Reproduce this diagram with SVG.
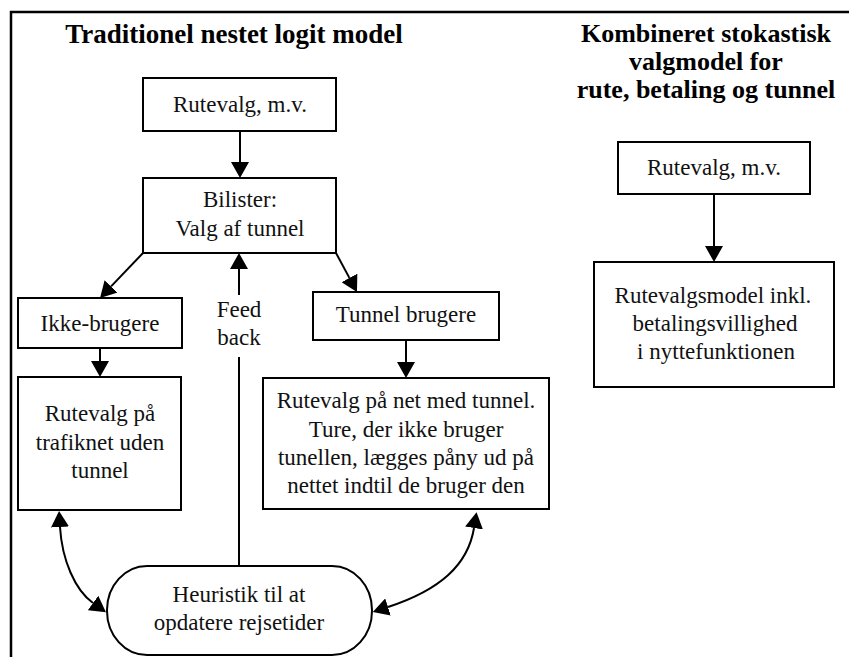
<svg xmlns="http://www.w3.org/2000/svg" width="849" height="657" viewBox="0 0 849 657">
<style>
.box{fill:#fff;stroke:#000;stroke-width:2}
.t{font-family:"Liberation Serif","Times New Roman",serif;font-size:23px;fill:#111;text-anchor:middle}
.h{font-family:"Liberation Serif","Times New Roman",serif;font-size:27px;font-weight:bold;fill:#000;text-anchor:middle}
.h2{font-family:"Liberation Serif","Times New Roman",serif;font-size:26px;font-weight:bold;fill:#000;text-anchor:middle}
.c{fill:none;stroke:#000;stroke-width:2}
.frame{fill:none;stroke:#000;stroke-width:2.5}
</style>
<defs>
<marker id="ah" markerUnits="userSpaceOnUse" markerWidth="17" markerHeight="18" refX="0" refY="9" orient="auto-start-reverse" viewBox="0 0 17 18">
<path d="M0,0 L16,9 L0,18 z" fill="#000"/>
</marker>
</defs>
<g id="frame">
<path class="frame" d="M11,657 L11,12 L849,12"/>
</g>
<g id="titles">
<text class="h" x="234" y="43">Traditionel nestet logit model</text>
<text class="h2" x="706" y="42">Kombineret stokastisk</text>
<text class="h2" x="706" y="70">valgmodel for</text>
<text class="h2" x="706" y="98">rute, betaling og tunnel</text>
</g>
<g id="connectors">
<path class="c" d="M240,131 L240,162" marker-end="url(#ah)"/>
<path class="c" d="M143,253 L111.1,286.4" marker-end="url(#ah)"/>
<path class="c" d="M336,253 L349.4,277.9" marker-end="url(#ah)"/>
<path class="c" d="M239,566 L239,357"/>
<path class="c" d="M239,295 L239,269" marker-end="url(#ah)"/>
<path class="c" d="M100,348 L100,361" marker-end="url(#ah)"/>
<path class="c" d="M406,340 L406,362" marker-end="url(#ah)"/>
<path class="c" d="M714,194 L714,246" marker-end="url(#ah)"/>
<path class="c" d="M60,527 C62,560 75,590 93,603" marker-start="url(#ah)" marker-end="url(#ah)"/>
<path class="c" d="M474,528 C468,565 440,590 388,607" marker-start="url(#ah)" marker-end="url(#ah)"/>
<text class="t" x="239" y="317">Feed</text>
<text class="t" x="239" y="345">back</text>
</g>
<g id="n-rutevalg-left">
<rect class="box" x="143" y="78" width="193" height="53"/>
<text class="t" x="240" y="112">Rutevalg, m.v.</text>
</g>
<g id="n-bilister">
<rect class="box" x="143" y="178" width="193" height="75"/>
<text class="t" x="240" y="207">Bilister:</text>
<text class="t" x="240" y="236">Valg af tunnel</text>
</g>
<g id="n-ikke">
<rect class="box" x="18" y="298" width="164" height="50"/>
<text class="t" x="100" y="331">Ikke-brugere</text>
</g>
<g id="n-tunnelbrugere">
<rect class="box" x="313" y="292" width="186" height="48"/>
<text class="t" x="406" y="322">Tunnel brugere</text>
</g>
<g id="n-uden">
<rect class="box" x="18" y="377" width="163" height="133"/>
<text class="t" x="100" y="421">Rutevalg på</text>
<text class="t" x="100" y="450">trafiknet uden</text>
<text class="t" x="100" y="478">tunnel</text>
</g>
<g id="n-med">
<rect class="box" x="263" y="378" width="286" height="131"/>
<text class="t" x="406" y="408">Rutevalg på net med tunnel.</text>
<text class="t" x="406" y="437">Ture, der ikke bruger</text>
<text class="t" x="406" y="465">tunellen, lægges påny ud på</text>
<text class="t" x="406" y="493">nettet indtil de bruger den</text>
</g>
<g id="n-heuristik">
<rect class="box" x="107" y="566" width="265" height="89" rx="40" ry="44"/>
<text class="t" x="239" y="602">Heuristik til at</text>
<text class="t" x="239" y="630">opdatere rejsetider</text>
</g>
<g id="n-rutevalg-right">
<rect class="box" x="618" y="142" width="192" height="52"/>
<text class="t" x="714" y="175">Rutevalg, m.v.</text>
</g>
<g id="n-rutevalgsmodel">
<rect class="box" x="594" y="262" width="240" height="125"/>
<text class="t" x="713" y="303">Rutevalgsmodel inkl.</text>
<text class="t" x="715" y="331">betalingsvillighed</text>
<text class="t" x="716" y="359">i nyttefunktionen</text>
</g>
</svg>
